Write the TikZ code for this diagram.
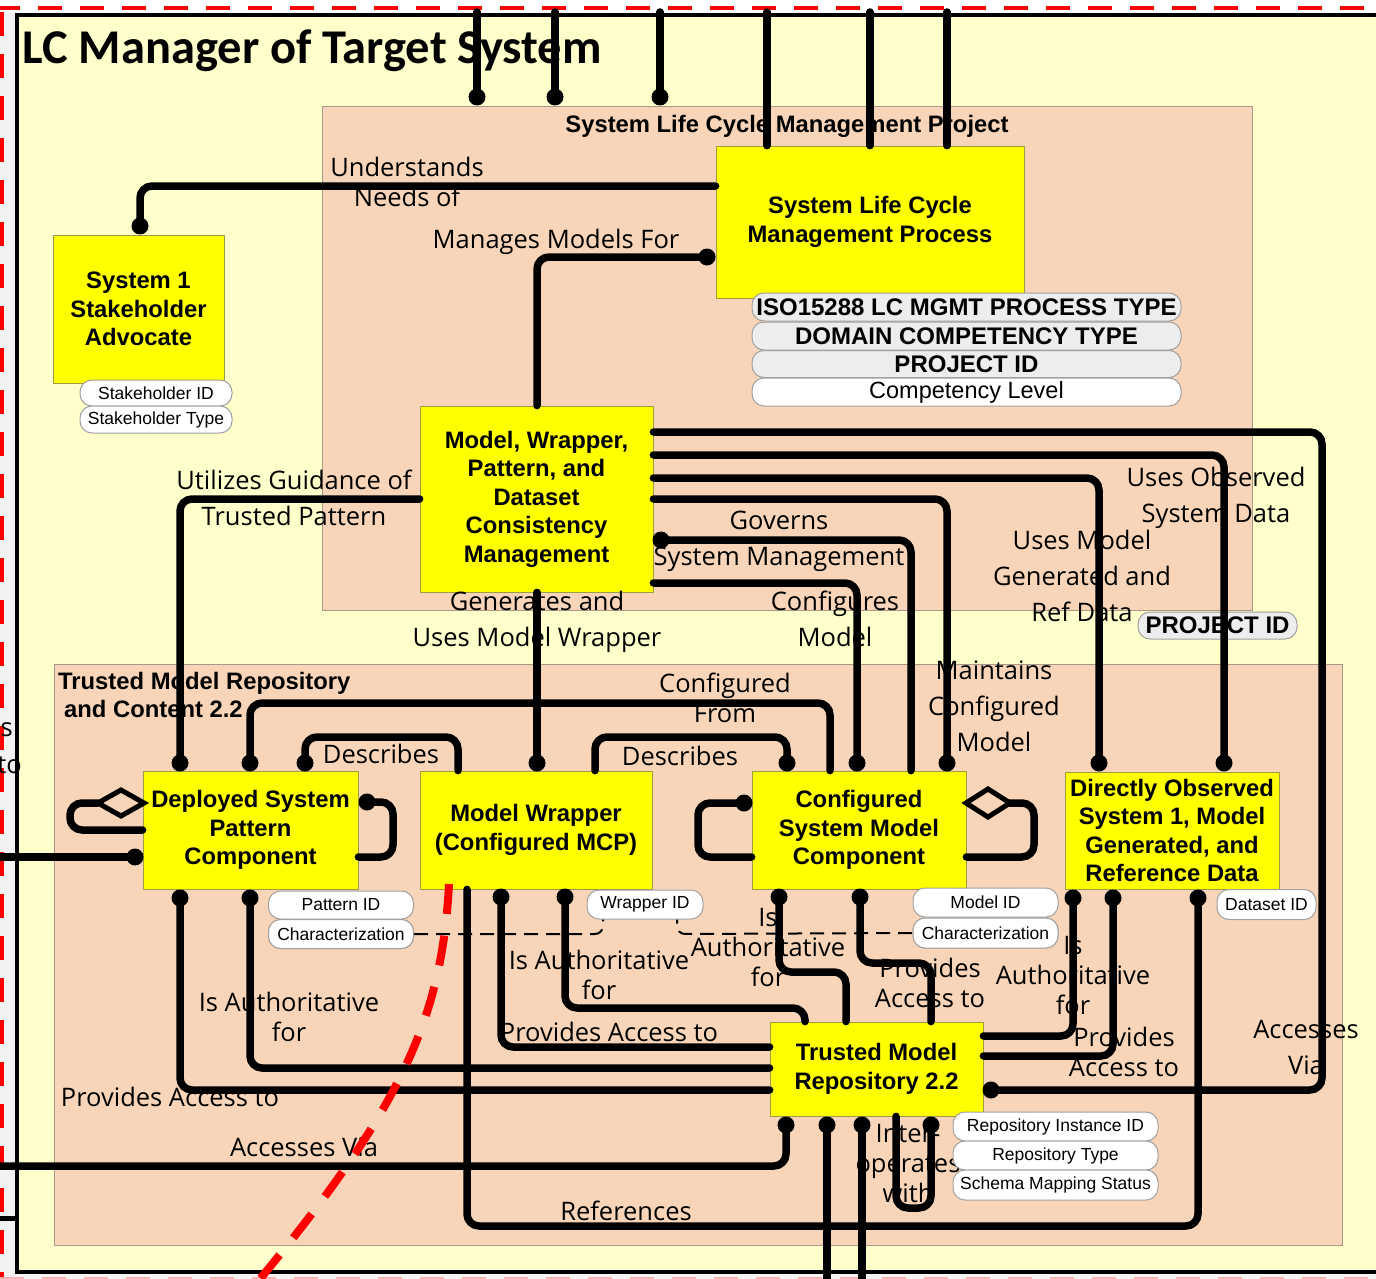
\documentclass[tikz,border=0pt]{standalone}
\usepackage{fontspec}
\setmainfont{Liberation Sans}
\newfontfamily\labfont{Open Sans}
\newfontfamily\ttlfont{Carlito}
\definecolor{frameyellow}{HTML}{FFFFCC}
\definecolor{peach}{HTML}{F8D5B8}
\definecolor{peachedge}{HTML}{A89888}
\definecolor{boxyellow}{HTML}{FFFF00}
\definecolor{boxedge}{HTML}{9C9C40}
\definecolor{pillgrey}{HTML}{EDEDED}
\definecolor{pilledge}{HTML}{A0A0A0}
\definecolor{outergrey}{HTML}{F2F2F2}
\definecolor{dashred}{HTML}{FF0000}
\definecolor{palered}{HTML}{FFB0B0}
\begin{document}
\begin{tikzpicture}[x=1pt,y=-1pt,
  box/.style={draw=boxedge, fill=boxyellow, line width=0.8pt, align=center, inner sep=0pt, font=\bfseries\fontsize{23.8}{28.5}\selectfont},
  pill/.style={draw=pilledge, fill=white, rounded corners=12pt, line width=1pt, inner sep=0pt, font=\fontsize{17.5}{20}\selectfont},
  bigpill/.style={pill, fill=pillgrey, font=\bfseries\fontsize{24}{26}\selectfont},
  lab/.style={font=\labfont\fontsize{25.5}{30}\selectfont, align=center, inner sep=0pt},
  lab36/.style={font=\labfont\fontsize{25.5}{36}\selectfont, align=center, inner sep=0pt},
  conn/.style={line width=7.5pt, rounded corners=12pt, line cap=round, line join=round},
  agg/.style={line width=5pt, line join=miter},
  dashconn/.style={line width=2pt, dash pattern=on 14pt off 8pt, rounded corners=8pt},
  jdot/.style={fill=black}
]
\useasboundingbox (0,0) rectangle (1376,1279);
% ---------- backgrounds
\fill[outergrey] (0,0) rectangle (1376,1279);
\fill[white] (0,0) rectangle (1376,13);
\draw[dashred, line width=4pt, dash pattern=on 24pt off 18pt] (-4,8) -- (1380,8);
\draw[dashred, line width=4pt, dash pattern=on 24pt off 18pt] (2,12) -- (2,1285);
\draw[palered, line width=3pt, dash pattern=on 24pt off 18pt] (0,1278) -- (1380,1278);
\draw[fill=frameyellow, line width=3.5pt] (17,15) rectangle (1390,1272);
\draw[fill=peach, draw=peachedge, line width=0.8pt] (322,106) rectangle (1252,610);
\draw[fill=peach, draw=peachedge, line width=0.8pt] (54,664) rectangle (1342,1245);
% ---------- titles
\node[anchor=base west, inner sep=0pt, font=\ttlfont\bfseries\fontsize{48.5}{50}\selectfont] (title) at (22,64) {LC Manager of Target System};
\node[anchor=base, inner sep=0pt, font=\bfseries\fontsize{23.8}{26}\selectfont] (ptitle) at (787,132) {System Life Cycle Management Project};
\node[anchor=base west, inner sep=0pt, font=\bfseries\fontsize{23.8}{26}\selectfont] (rtitle1) at (58,689) {Trusted Model Repository};
\node[anchor=base west, inner sep=0pt, font=\bfseries\fontsize{23.8}{26}\selectfont] (rtitle2) at (64,717) {and Content 2.2};
% ---------- boxes
\node[box, font=\bfseries\fontsize{23.8}{29}\selectfont, minimum width=308, minimum height=152] (proc) at (870,222) {System Life Cycle\\Management Process};
\node[box, minimum width=171, minimum height=148] (stk) at (138.5,309) {System 1\\Stakeholder\\Advocate};
\node[box, minimum width=233, minimum height=186] (mwpd) at (536.5,499) {Model, Wrapper,\\Pattern, and\\Dataset\\Consistency\\Management};
\node[box, minimum width=215, minimum height=118] (dspc) at (250.5,830) {Deployed System\\Pattern\\Component};
\node[box, minimum width=232, minimum height=118] (mw) at (536,830) {Model Wrapper\\(Configured MCP)};
\node[box, minimum width=214, minimum height=118] (csmc) at (859,830) {Configured\\System Model\\Component};
\node[box, minimum width=214, minimum height=117] (dos) at (1172,830.5) {Directly Observed\\System 1, Model\\Generated, and\\Reference Data};
\node[box, minimum width=213, minimum height=94] (tmr) at (876.5,1069) {Trusted Model\\Repository 2.2};
% ---------- connector labels
\node[lab] (l1) at (407,182) {Understands\\Needs of};
\node[lab] (l2) at (556,242) {Manages Models For};
\node[lab36] (l3) at (294,498) {Utilizes Guidance of\\Trusted Pattern};
\node[lab36] (l4) at (537,622) {Generates and\\Uses Model Wrapper};
\node[lab36] (l5) at (779,541) {Governs\\System Management};
\node[lab36] (l6) at (835,619) {Configures\\Model};
\node[lab36] (l7) at (1082,576) {Uses Model\\Generated and\\Ref Data};
\node[lab36] (l8) at (1216,498) {Uses Observed\\System Data};
\node[lab36] (l9) at (994,706) {Maintains\\Configured\\Model};
\node[lab] (l10) at (725,698) {Configured\\From};
\node[lab] (l11) at (381,754) {Describes};
\node[lab] (l12) at (680,756) {Describes};
\node[lab] (l13) at (289,1017) {Is Authoritative\\for};
\node[lab] (l14) at (170,1097) {Provides Access to};
\node[lab] (l15) at (304,1147) {Accesses Via};
\node[lab] (l16) at (599,975) {Is Authoritative\\for};
\node[lab] (l17) at (609,1032) {Provides Access to};
\node[lab] (l18) at (768,948) {Is\\Authoritative\\for};
\node[lab] (l19) at (930,983) {Provides\\Access to};
\node[lab] (l20) at (1073,976) {Is\\Authoritative\\for};
\node[lab] (l21) at (1124,1052) {Provides\\Access to};
\node[lab36] (l22) at (1306,1047) {Accesses\\Via};
\node[lab] (l23) at (626,1211) {References};
\node[lab] (l24) at (908,1164) {Inter-\\operates\\with};
\node[lab, anchor=east] (l25) at (13,730) {s};
\node[lab, anchor=east] (l26) at (22,765) {to};
% ---------- project id pill under connector
\node[bigpill, minimum width=159, minimum height=27] (pidB) at (1217.5,625.5) {PROJECT ID};
% ---------- dashed link between characterization attributes (drawn under pills)
\node[pill, minimum width=145, minimum height=29] (charL) at (341,934) {Characterization};
\node[pill, minimum width=145, minimum height=30] (charR) at (985.5,933) {Characterization};
\draw[dashconn] (charL.east) -- (603,934) -- (603,905) -- (677,905) -- (677,934) -- (charR.west);
% ---------- dot coordinates
\coordinate (t1) at (477,97); \coordinate (t2) at (555,97); \coordinate (t3) at (660,97);
\coordinate (dStk) at (140,226);
\coordinate (dProc) at (707,257);
\coordinate (dDtop1) at (180,763);
\coordinate (dMWtop) at (537,763);
\coordinate (dTMRr) at (991,1090);
\coordinate (dDOS2) at (1224,763);
\coordinate (dDOS1) at (1099,763);
\coordinate (dC5) at (947,763);
\coordinate (dMWPDr) at (661,540);
\coordinate (dC3) at (857,763);
\coordinate (dD2) at (250,763);
\coordinate (dD3) at (305,763);
\coordinate (dC1) at (787,763);
\coordinate (dDr) at (367,802);
\coordinate (dDl) at (135,857);
\coordinate (dDb1) at (180,898);
\coordinate (dDb2) at (250,898);
\coordinate (dDOSb3) at (1198,898);
\coordinate (dMWb1) at (501,897);
\coordinate (dMWb2) at (565,897);
\coordinate (dCl) at (744,803);
\coordinate (dCb1) at (779,897);
\coordinate (dCb2) at (860,897);
\coordinate (dOb1) at (1073,898);
\coordinate (dOb2) at (1113,898);
\coordinate (dTb1) at (786,1125);
\coordinate (dTb2) at (827,1125);
\coordinate (dTb3) at (862,1125);
\coordinate (dTb4) at (931,1125);
% free ends
\coordinate (e1) at (477,12); \coordinate (e2) at (555,12); \coordinate (e3) at (660,12);
\coordinate (e4) at (767,12); \coordinate (e5) at (870,12); \coordinate (e6) at (947,12);
\coordinate (eL1) at (-10,857); \coordinate (eL2) at (-10,1166);
\coordinate (eB1) at (827,1290); \coordinate (eB2) at (862,1290);
% ---------- connectors
\draw[conn] (e1) -- (t1);
\draw[conn] (e2) -- (t2);
\draw[conn] (e3) -- (t3);
\draw[conn] (e4) -- (e4 |- proc.north);
\draw[conn] (e5) -- (e5 |- proc.north);
\draw[conn] (e6) -- (e6 |- proc.north);
\draw[conn] (proc.west |- 0,186) -- (140,186) -- (dStk);
\draw[conn] (dProc) -- (537,257) -- (537,0 |- mwpd.north);
\draw[conn] (mwpd.west |- 0,499) -- (180,499) -- (dDtop1);
\draw[conn] (537,0 |- mwpd.south) -- (dMWtop);
\draw[conn] (mwpd.east |- 0,432) -- (1322,432) -- (1322,1090) -- (dTMRr);
\draw[conn] (mwpd.east |- 0,455) -- (1224,455) -- (dDOS2);
\draw[conn] (mwpd.east |- 0,478) -- (1099,478) -- (dDOS1);
\draw[conn] (mwpd.east |- 0,499) -- (947,499) -- (dC5);
\draw[conn] (dMWPDr) -- (911,540) -- (911,0 |- csmc.north);
\draw[conn] (mwpd.east |- 0,583) -- (857,583) -- (dC3);
\draw[conn] (dD2) -- (250,703) -- (830,703) -- (830,0 |- csmc.north);
\draw[conn] (dD3) -- (305,737) -- (458,737) -- (458,0 |- mw.north);
\draw[conn] (595,0 |- mw.north) -- (595,737) -- (787,737) -- (dC1);
\draw[conn] (dDr) -- (393,802) -- (393,857) -- (dspc.east |- 0,857);
\draw[agg] (98,803) -- (121,790) -- (144,803) -- (121,816) -- cycle;
\draw[conn] (98,803) -- (70,803) -- (70,830) -- (dspc.west |- 0,830);
\draw[conn] (dDl) -- (eL1);
\draw[conn] (dDb1) -- (180,1090) -- (tmr.west |- 0,1090);
\draw[conn] (dDb2) -- (250,1068) -- (tmr.west |- 0,1068);
\draw[conn] (467,0 |- mw.south) -- (467,1226) -- (1198,1226) -- (dDOSb3);
\draw[conn] (dMWb1) -- (501,1047) -- (tmr.west |- 0,1047);
\draw[conn] (dMWb2) -- (565,1008) -- (805,1008) -- (805,0 |- tmr.north);
\draw[conn] (dCl) -- (698,803) -- (698,857) -- (csmc.west |- 0,857);
\draw[agg] (966,803) -- (988,789) -- (1010,803) -- (988,817) -- cycle;
\draw[conn] (1010,803) -- (1034,803) -- (1034,857) -- (csmc.east |- 0,857);
\draw[conn] (dCb1) -- (779,972) -- (846,972) -- (846,0 |- tmr.north);
\draw[conn] (dCb2) -- (860,963) -- (931,963) -- (931,0 |- tmr.north);
\draw[conn] (dOb1) -- (1073,1036) -- (tmr.east |- 0,1036);
\draw[conn] (dOb2) -- (1113,1056) -- (tmr.east |- 0,1056);
\draw[conn] (dTb1) -- (786,1166) -- (eL2);
\draw[conn] (dTb2) -- (eB1);
\draw[conn] (dTb3) -- (eB2);
\draw[conn] (896,0 |- tmr.south) -- (896,1208) -- (931,1208) -- (dTb4);
\draw[line width=5pt] (-5,1218) -- (17,1218);
% ---------- dots
\foreach \c in {t1,t2,t3,dStk,dProc,dDtop1,dMWtop,dTMRr,dDOS2,dDOS1,dC5,dMWPDr,dC3,dD2,dD3,dC1,dDr,dDl,dDb1,dDb2,dDOSb3,dMWb1,dMWb2,dCl,dCb1,dCb2,dOb1,dOb2,dTb1,dTb2,dTb3,dTb4}
  \fill[jdot] (\c) circle[radius=8.5pt];
% ---------- attribute pills
\node[pill, minimum width=152, minimum height=26] (sid) at (156,393) {Stakeholder ID};
\node[pill, minimum width=152, minimum height=27] (stype) at (156,419.5) {Stakeholder Type};
\node[bigpill, minimum width=429, minimum height=28] (iso) at (966.5,307) {ISO15288 LC MGMT PROCESS TYPE};
\node[bigpill, minimum width=429, minimum height=28] (dct) at (966.5,336) {DOMAIN COMPETENCY TYPE};
\node[bigpill, minimum width=429, minimum height=27] (pidA) at (966.5,364) {PROJECT ID};
\node[pill, font=\fontsize{23.5}{26}\selectfont, minimum width=429, minimum height=28] (clev) at (966.5,392) {Competency Level};
\node[pill, minimum width=145, minimum height=28] (patid) at (341,905) {Pattern ID};
\node[pill, minimum width=145, minimum height=29] (charL2) at (341,934) {Characterization};
\node[pill, minimum width=116, minimum height=29] (wid) at (645,904.5) {Wrapper ID};
\node[pill, minimum width=145, minimum height=29] (mid) at (985.5,902.5) {Model ID};
\node[pill, minimum width=145, minimum height=30] (charR2) at (985.5,933) {Characterization};
\node[pill, minimum width=99, minimum height=30] (dsid) at (1266.5,904.5) {Dataset ID};
\node[pill, minimum width=205, minimum height=29] (rid) at (1055.5,1126.5) {Repository Instance ID};
\node[pill, minimum width=205, minimum height=29] (rtype) at (1055.5,1155.5) {Repository Type};
\node[pill, minimum width=205, minimum height=30] (smap) at (1055.5,1185) {Schema Mapping Status};
% ---------- red boundary curve
\draw[dashred, line width=8pt, dash pattern=on 30pt off 22pt] (449,884) .. controls (442,1020) and (400,1110) .. (255,1285);
\end{tikzpicture}
\end{document}
